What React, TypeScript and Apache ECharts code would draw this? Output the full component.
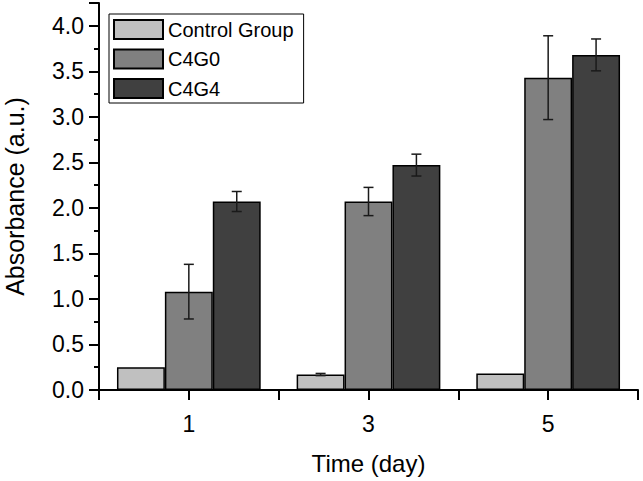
import React, { useEffect, useRef } from "react";
import * as echarts from "echarts";

const categories = ["1", "3", "5"];
const seriesNames = ["Control Group", "C4G0", "C4G4"];
const controlValues = [0.25, 0.17, 0.18];
const controlErrors = [0, 0.012, 0];
const c4g0Values = [1.08, 2.07, 3.43];
const c4g0Errors = [0.3, 0.155, 0.46];
const c4g4Values = [2.07, 2.47, 3.68];
const c4g4Errors = [0.11, 0.12, 0.175];
const colors = ["#c0c0c0", "#808080", "#404040"];

const FONT = "'Liberation Sans', Arial, sans-serif";

export default function App() {
  const ref = useRef<HTMLDivElement>(null);
  useEffect(() => {
    if (!ref.current) return;
    const chart = echarts.init(ref.current, undefined, { renderer: "svg" });
    const values = [controlValues, c4g0Values, c4g4Values];
    const errors = [controlErrors, c4g0Errors, c4g4Errors];
    const barSeries = seriesNames.map((name, i) => ({
      name,
      type: "bar",
      data: values[i],
      barGap: "0%",
      barCategoryGap: "20%",
      itemStyle: { color: colors[i], borderColor: "#000", borderWidth: 1.5 },
      emphasis: { disabled: true },
    }));
    const errSeries = seriesNames.map((name, k) => ({
      name: name + " error",
      type: "custom",
      z: 5,
      data: values[k].map((v, j) => [j, v, errors[k][j]]),
      renderItem: (params: any, api: any) => {
        const cat = api.value(0);
        const val = api.value(1);
        const err = api.value(2);
        if (!err) return null;
        const band = api.size([1, 0])[0];
        const barW = (band * 0.8) / 3;
        const c = api.coord([cat, val]);
        const x = c[0] + (k - 1) * barW;
        const top = api.coord([cat, val + err])[1];
        const bot = api.coord([cat, val - err])[1];
        const cap = 5;
        const style = { stroke: "#1a1a1a", lineWidth: 1.5 };
        return {
          type: "group",
          children: [
            { type: "line", shape: { x1: x, y1: top, x2: x, y2: bot }, style },
            { type: "line", shape: { x1: x - cap, y1: top, x2: x + cap, y2: top }, style },
            { type: "line", shape: { x1: x - cap, y1: bot, x2: x + cap, y2: bot }, style },
          ],
        };
      },
    }));
    chart.setOption({
      animation: false,
      textStyle: { fontFamily: FONT },
      grid: { left: 99, right: 5, top: 3, bottom: 91, containLabel: false, outerBoundsMode: "none" },
      legend: {
        data: seriesNames,
        orient: "vertical",
        left: 109,
        top: 14,
        itemWidth: 49,
        itemHeight: 19,
        itemGap: 8.5,
        padding: [5, 10, 4, 4],
        borderColor: "#000",
        borderWidth: 1,
        icon: "rect",
        textStyle: { fontSize: 20, lineHeight: 19, color: "#000", fontFamily: FONT },
        selectedMode: false,
      },
      xAxis: [
        {
          type: "category",
          data: categories,
          name: "Time (day)",
          nameLocation: "middle",
          nameGap: 61,
          nameTextStyle: { fontSize: 24, color: "#000", fontFamily: FONT },
          axisLine: { lineStyle: { color: "#000", width: 2 } },
          axisTick: { show: true, inside: false, interval: 0, length: 10, lineStyle: { color: "#000", width: 2 } },
          axisLabel: { fontSize: 23, color: "#000", margin: 22, fontFamily: FONT },
        },
        {
          type: "category",
          data: categories,
          position: "bottom",
          axisLine: { show: false },
          axisTick: { show: true, inside: false, alignWithLabel: true, interval: 0, length: 10, lineStyle: { color: "#000", width: 2 } },
          axisLabel: { show: false },
        },
      ],
      yAxis: {
        type: "value",
        min: 0,
        max: 4.25,
        interval: 0.5,
        name: "Absorbance (a.u.)",
        nameLocation: "middle",
        nameGap: 72,
        nameTextStyle: { fontSize: 25, color: "#000", fontFamily: FONT },
        axisLine: { show: true, lineStyle: { color: "#000", width: 2 } },
        axisTick: { show: true, inside: false, length: 10, lineStyle: { color: "#000", width: 2 } },
        minorTick: { show: true, splitNumber: 2, length: 5, lineStyle: { color: "#000", width: 2 } },
        splitLine: { show: false },
        axisLabel: {
          fontSize: 23,
          color: "#000",
          margin: 15,
          fontFamily: FONT,
          formatter: (v: number) => (Math.abs(v * 2 - Math.round(v * 2)) < 1e-6 ? v.toFixed(1) : ""),
        },
      },
      series: [...barSeries, ...errSeries],
    });
    return () => chart.dispose();
  }, []);
  return <div ref={ref} style={{ width: 643, height: 481, position: "absolute", left: 0, top: 0, background: "#fff" }} />;
}
